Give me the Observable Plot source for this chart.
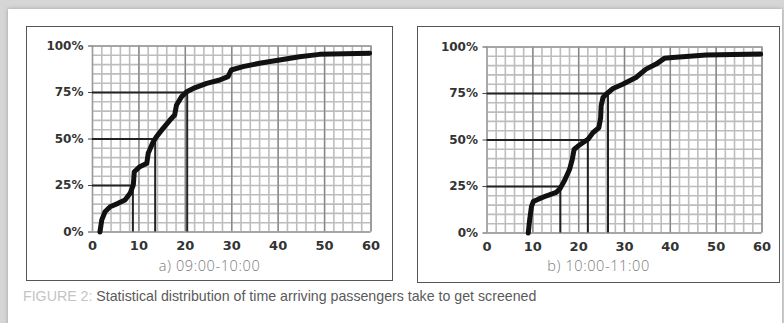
<!DOCTYPE html>
<html><head><meta charset="utf-8">
<script src="https://cdn.jsdelivr.net/npm/d3@7"></script>
<script src="https://cdn.jsdelivr.net/npm/@observablehq/plot@0.6"></script>
<style>
html,body{margin:0;padding:0;}
body{width:784px;height:323px;background:#d6d6d6;overflow:hidden;position:relative;}
#card{position:absolute;left:8px;top:9px;width:774px;height:330px;background:#fff;box-shadow:0 0 4px rgba(0,0,0,0.25);}
.panel{position:absolute;border:1.5px solid #555;box-sizing:border-box;background:#fff;}
.panel svg{position:absolute;left:0;top:0;}
.sub{position:absolute;left:0;right:0;text-align:center;font-family:"Open Sans","Lato",sans-serif;font-weight:300;font-size:14.5px;letter-spacing:0.6px;line-height:16px;color:#7a7a7a;}
#caption{position:absolute;left:23px;top:289px;font-family:"Liberation Sans Narrow","Arial Narrow",sans-serif;font-size:14.2px;line-height:15px;color:#5a5a5a;white-space:nowrap;}
#caption .fig{color:#c4c4c4;}
</style>
</head><body>
<div id="card"></div>
<div class="panel" id="pa" style="left:26px;top:26px;width:367px;height:255px;"><div class="sub" style="top:231px;">a) 09:00-10:00</div></div>
<div class="panel" id="pb" style="left:417px;top:26px;width:363px;height:257px;"><div class="sub" style="top:231px;">b) 10:00-11:00</div></div>
<div id="caption"><span class="fig">FIGURE 2:</span> Statistical distribution of time arriving passengers take to get screened</div>
<script>
// Panel a) 09:00-10:00 : cumulative share (%) of passengers screened vs. time (minutes)
const timeA  = [1.6, 2.0, 2.7, 3.8, 5.5, 7.0, 8.1, 8.8, 9.0, 10.2, 11.7, 12.0, 13.1, 13.8, 15.2, 16.7, 17.7, 18.1, 19.2, 20.3, 21.7, 24.6, 27.4, 29.2, 29.9, 32.4, 36.0, 40.3, 44.6, 48.9, 59.7];
const shareA = [0, 6.5, 10.9, 13.6, 15.4, 17.2, 20.8, 25.3, 32.4, 35.1, 36.9, 42.3, 48.6, 51.3, 55.7, 60.2, 62.9, 68.3, 72.8, 75.4, 77.2, 79.9, 81.7, 83.5, 87.1, 88.9, 90.7, 92.5, 94.2, 95.5, 96.1];
const quantA = [8.7, 13.5, 20.4];
// Panel b) 10:00-11:00
const timeB  = [9.0, 9.3, 9.7, 10.1, 11.2, 13.0, 15.1, 16.0, 17.0, 18.0, 18.6, 19.0, 19.8, 20.9, 22.0, 23.1, 24.4, 24.8, 24.9, 25.3, 26.0, 27.5, 29.6, 32.5, 34.7, 36.9, 38.7, 40.5, 47.8, 59.7];
const shareB = [0, 7.0, 14.2, 16.9, 18.2, 20.0, 21.8, 24.1, 28.6, 34.1, 39.5, 44.9, 46.6, 48.5, 50.3, 53.9, 56.6, 62.0, 68.3, 72.8, 74.6, 77.7, 80.0, 83.6, 88.1, 90.8, 93.9, 94.4, 95.7, 96.2];
const quantB = [16.0, 22.0, 26.4];
// Quantile levels and axis ticks
const levels = [25, 50, 75];
const xTicks = [0, 10, 20, 30, 40, 50, 60];
const yTicks = [0, 25, 50, 75, 100];
const minorX = d3.range(0, 61, 2);
const minorY = d3.range(0, 101, 5);

function makePlot(time, share, quant, dims) {
  const pts = time.map((t, i) => ({t, s: share[i]}));
  const refs = levels.map((l, i) => ({level: l, q: quant[i]}));
  return Plot.plot({
    width: dims.width, height: dims.height,
    marginLeft: dims.ml, marginRight: dims.mr, marginTop: dims.mt, marginBottom: dims.mb,
    style: {fontFamily: "DejaVu Sans", fontWeight: "bold", fontSize: "12px", color: "#333", background: "transparent"},
    x: {domain: [0, 60]},
    y: {domain: [0, 100]},
    marks: [
      Plot.ruleY(minorY, {stroke: "#bdbdbd", strokeWidth: 1.6}),
      Plot.ruleX(minorX, {stroke: "#bdbdbd", strokeWidth: 1.6}),
      Plot.ruleX(xTicks.slice(1), {stroke: "#858585", strokeWidth: 1.3}),
      Plot.ruleX([0], {stroke: "#999", strokeWidth: 1.3}),
      Plot.ruleY([0, 100], {stroke: "#999", strokeWidth: 1.3}),
      Plot.ruleY(refs, {y: "level", x1: 0, x2: "q", stroke: "#222", strokeWidth: 2}),
      Plot.ruleX(refs, {x: "q", y1: 0, y2: "level", stroke: "#222", strokeWidth: 2}),
      Plot.line(pts, {x: "t", y: "s", stroke: "#111", strokeWidth: 5, strokeLinejoin: "round", strokeLinecap: "round"}),
      Plot.axisX({ticks: xTicks, tickSize: 0, tickPadding: 9, fontSize: 13, label: null}),
      Plot.axisY({ticks: yTicks, tickSize: 4, tickPadding: 5, tickFormat: d => d + "%", label: null, stroke: "#444"})
    ]
  });
}

document.getElementById("pa").appendChild(makePlot(timeA, shareA, quantA, {width: 364, height: 228, ml: 65, mr: 20.5, mt: 18.5, mb: 23.5}));
document.getElementById("pb").appendChild(makePlot(timeB, shareB, quantB, {width: 360, height: 229, ml: 68.5, mr: 16.5, mt: 19.5, mb: 23.5}));
</script>
</body></html>
